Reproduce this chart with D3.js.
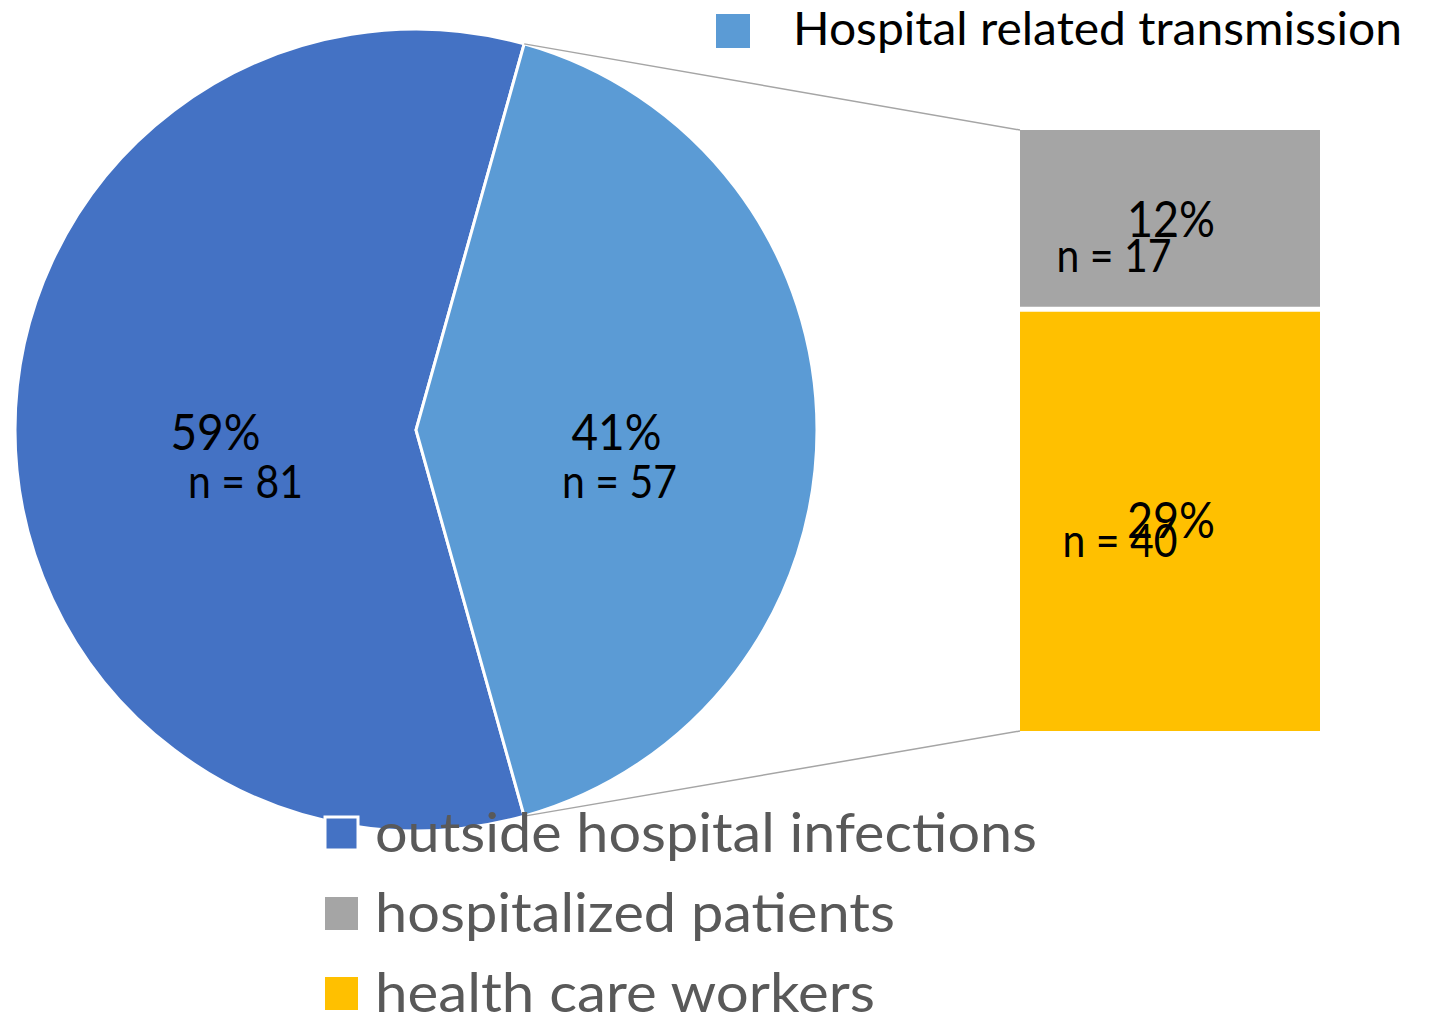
<!DOCTYPE html>
<html>
<head>
<meta charset="utf-8">
<script src="https://cdn.jsdelivr.net/npm/d3@7"></script>
<style>
  body { margin: 0; background: #fff; }
  svg { display: block; font-family: Lato, "Open Sans", sans-serif; }
</style>
</head>
<body>
<div id="chart"></div>
<script>
// pie: the two main groups
var pieNames = ["outside hospital infections", "Hospital related transmission"];
var pieCounts = [81, 57];
var piePercents = ["59%", "41%"];
var pieColors = ["#4472C4", "#5B9BD5"];

// bar: breakdown of hospital related transmission
var barNames = ["hospitalized patients", "health care workers"];
var barCounts = [17, 40];
var barPercents = ["12%", "29%"];
var barColors = ["#A5A5A5", "#FFC000"];

var width = 1434, height = 1019;
var cx = 416, cy = 430, r = 401;

var svg = d3.select("#chart").append("svg")
	.attr("width", width)
	.attr("height", height);

// rotate so the hospital slice is centred at 3 o'clock
var total = d3.sum(pieCounts);
var hospAngle = 2 * Math.PI * pieCounts[1] / total;
var start = Math.PI / 2 + hospAngle / 2;

var pie = d3.pie().sort(null).startAngle(start).endAngle(start + 2 * Math.PI);
var arcs = pie(pieCounts);
var arc = d3.arc().innerRadius(0).outerRadius(r);

var gPie = svg.append("g").attr("transform", "translate(" + cx + "," + cy + ")");

gPie.selectAll("path")
	.data(arcs)
	.enter()
	.append("path")
	.attr("d", arc)
	.attr("fill", function (d, i) { return pieColors[i]; })
	.attr("stroke", "white")
	.attr("stroke-width", 3)
	.attr("stroke-linejoin", "miter");

// bar of pie
var barX0 = 1020, barX1 = 1320;
var yScale = d3.scaleLinear()
	.domain([0, d3.sum(barCounts)])
	.range([130, 731]);

var stacked = [];
var acc = 0;
barCounts.forEach(function (c, i) {
	stacked.push({ y0: acc, y1: acc + c, i: i });
	acc += c;
});
var gap = 2.5;

svg.selectAll("rect.seg")
	.data(stacked)
	.enter()
	.append("rect")
	.attr("class", "seg")
	.attr("x", barX0)
	.attr("width", barX1 - barX0)
	.attr("y", function (d) { return yScale(d.y0) + (d.i > 0 ? gap : 0); })
	.attr("height", function (d) {
		return yScale(d.y1) - yScale(d.y0) - (d.i > 0 ? gap : 0) - (d.i < stacked.length - 1 ? gap : 0);
	})
	.attr("fill", function (d) { return barColors[d.i]; });

// connector lines from hospital slice edges to bar corners
var hosp = arcs[1];
function edgePoint(a) {
	return [cx + r * Math.sin(a), cy - r * Math.cos(a)];
}
var pTop = edgePoint(hosp.startAngle);
var pBot = edgePoint(hosp.endAngle);
svg.append("line")
	.attr("x1", pTop[0]).attr("y1", pTop[1])
	.attr("x2", barX0).attr("y2", yScale(0))
	.attr("stroke", "#A5A5A5").attr("stroke-width", 1.5);
svg.append("line")
	.attr("x1", pBot[0]).attr("y1", pBot[1])
	.attr("x2", barX0).attr("y2", yScale(d3.sum(barCounts)))
	.attr("stroke", "#A5A5A5").attr("stroke-width", 1.5);

// pie labels
var nOffsetX = [30, 3];
gPie.selectAll("text.pct")
	.data(arcs)
	.enter()
	.append("text")
	.attr("class", "pct")
	.attr("x", function (d) { return arc.centroid(d)[0]; })
	.attr("y", function (d) { return arc.centroid(d)[1] + 20; })
	.attr("text-anchor", "middle")
	.attr("font-size", "50px")
	.attr("textLength", 90)
	.attr("lengthAdjust", "spacingAndGlyphs")
	.attr("fill", "black")
	.text(function (d, i) { return piePercents[i]; });

gPie.selectAll("text.cnt")
	.data(arcs)
	.enter()
	.append("text")
	.attr("class", "cnt")
	.attr("x", function (d, i) { return arc.centroid(d)[0] + nOffsetX[i]; })
	.attr("y", function (d) { return arc.centroid(d)[1] + 68; })
	.attr("text-anchor", "middle")
	.attr("font-size", "46px")
	.attr("textLength", 115)
	.attr("lengthAdjust", "spacingAndGlyphs")
	.attr("fill", "black")
	.text(function (d, i) { return "n = " + pieCounts[i]; });

// bar labels (overlapping, as in the original)
var barMidX = (barX0 + barX1) / 2;
var pctDy = [17, 18];
var cntDx = [-56, -50];
var cntDy = [52, 37];
svg.selectAll("text.bpct")
	.data(stacked)
	.enter()
	.append("text")
	.attr("class", "bpct")
	.attr("x", barMidX + 1)
	.attr("y", function (d) { return (yScale(d.y0) + yScale(d.y1)) / 2 + pctDy[d.i]; })
	.attr("text-anchor", "middle")
	.attr("font-size", "50px")
	.attr("textLength", 88)
	.attr("lengthAdjust", "spacingAndGlyphs")
	.attr("fill", "black")
	.text(function (d) { return barPercents[d.i]; });

svg.selectAll("text.bcnt")
	.data(stacked)
	.enter()
	.append("text")
	.attr("class", "bcnt")
	.attr("x", function (d) { return barMidX + cntDx[d.i]; })
	.attr("y", function (d) { return (yScale(d.y0) + yScale(d.y1)) / 2 + cntDy[d.i]; })
	.attr("text-anchor", "middle")
	.attr("font-size", "46px")
	.attr("textLength", 115)
	.attr("lengthAdjust", "spacingAndGlyphs")
	.attr("fill", "black")
	.text(function (d) { return "n = " + barCounts[d.i]; });

// top legend entry
svg.append("rect")
	.attr("x", 716).attr("y", 14)
	.attr("width", 34).attr("height", 34)
	.attr("fill", pieColors[1]);
svg.append("text")
	.attr("x", 793).attr("y", 45)
	.attr("font-size", "46px")
	.attr("textLength", 609)
	.attr("lengthAdjust", "spacingAndGlyphs")
	.attr("fill", "black")
	.text(pieNames[1]);

// bottom legend
var legendNames = [pieNames[0]].concat(barNames);
var legendColors = [pieColors[0]].concat(barColors);
var legendWidths = [662, 520, 500];
var legend = svg.selectAll("g.leg")
	.data(legendNames)
	.enter()
	.append("g")
	.attr("class", "leg")
	.attr("transform", function (d, i) { return "translate(325," + (817 + i * 80) + ")"; });

legend.append("rect")
	.attr("width", 33).attr("height", 33)
	.attr("fill", function (d, i) { return legendColors[i]; })
	.attr("stroke", function (d, i) { return i === 0 ? "white" : "none"; })
	.attr("stroke-width", 3);

legend.append("text")
	.attr("x", 50)
	.attr("y", 35)
	.attr("font-size", "55px")
	.attr("textLength", function (d, i) { return legendWidths[i]; })
	.attr("lengthAdjust", "spacingAndGlyphs")
	.attr("fill", "#595959")
	.text(function (d) { return d; });
</script>
</body>
</html>
